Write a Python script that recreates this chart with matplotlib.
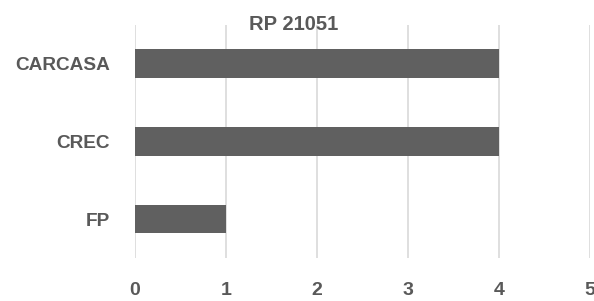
import matplotlib.pyplot as plt

categories = ['FP', 'CREC', 'CARCASA']
values = [1, 4, 4]
xticks = [0, 1, 2, 3, 4, 5]

plt.rcParams['font.family'] = ['Liberation Sans', 'DejaVu Sans']

text_color = '#595959'

fig = plt.figure(figsize=(5.94, 3.01), dpi=100)
ax = fig.add_axes([0.2273, 0.143, 0.766, 0.774])

ax.barh(range(len(categories)), values, height=0.37, color='#606060', zorder=3)

ax.set_xlim(0, 5)
ax.set_ylim(-0.5, len(categories) - 0.5)
ax.set_xticks(xticks)
ax.set_yticks(range(len(categories)))
ax.set_yticklabels(categories)
ax.grid(axis='x', color='#d9d9d9', linewidth=1.2, zorder=0)
for s in ax.spines.values():
    s.set_visible(False)
ax.tick_params(length=0, labelcolor=text_color)
ax.tick_params(axis='x', pad=17, labelsize=14)
ax.tick_params(axis='y', pad=18, labelsize=13.7)
for lab in ax.get_xticklabels() + ax.get_yticklabels():
    lab.set_fontweight('bold')

fig.text(0.495, 0.92, 'RP 21051', ha='center', va='center',
         fontsize=14.5, fontweight='bold', color=text_color)

fig.savefig('out.png', dpi=100)
